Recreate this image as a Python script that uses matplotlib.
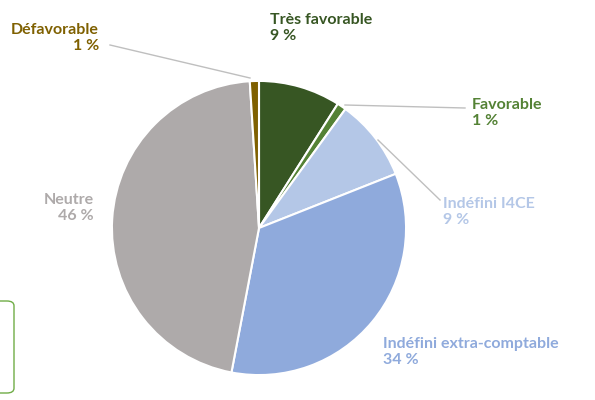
import matplotlib.pyplot as plt
from matplotlib.patches import FancyBboxPatch
from matplotlib.lines import Line2D

labels = ["Très favorable", "Favorable", "Indéfini I4CE", "Indéfini extra-comptable", "Neutre", "Défavorable"]
values = [9, 1, 9, 34, 46, 1]
pct_text = ["9 %", "1 %", "9 %", "34 %", "46 %", "1 %"]
colors = ["#375623", "#548235", "#B4C7E7", "#8FAADC", "#AEAAAA", "#7F6000"]

W, H = 595, 400
fig = plt.figure(figsize=(W/100, H/100), dpi=100)
cx, cy, r = 259, 228, 150
ax = fig.add_axes([(cx-r)/W, (H-cy-r)/H, 2*r/W, 2*r/H])
ax.pie(values, colors=colors, startangle=90, counterclock=False,
       wedgeprops=dict(edgecolor="white", linewidth=1.5), radius=1)
ax.set_xlim(-1.02, 1.02); ax.set_ylim(-1.02, 1.02)
ax.set_aspect("equal"); ax.axis("off")

def P(x, y):
    return x/W, 1 - y/H

pos = [(270, 28, "left"), (472, 113, "left"), (443, 212, "left"),
       (383, 352, "left"), (94, 208, "right"), (99, 38, "right")]
for i, (x, y, ha) in enumerate(pos):
    fig.text(*P(x, y), labels[i] + "\n" + pct_text[i], color=colors[i],
             ha=ha, va="center", fontsize=11.5, fontweight="bold",
             linespacing=1.25, family=["Lato", "DejaVu Sans"], multialignment=ha)

lc = "#BFBFBF"
for (x0, y0), (x1, y1) in [((110, 45), (250, 78)), ((345, 105), (465, 108)), ((378, 140), (440, 200))]:
    fig.add_artist(Line2D([x0/W, x1/W], [1-y0/H, 1-y1/H], color=lc, lw=1))

fig.add_artist(FancyBboxPatch((-8/W, 1-393/H), 22/W, 92/H,
               boxstyle="round,pad=0,rounding_size=0.012",
               edgecolor="#70AD47", facecolor="none", lw=1, transform=fig.transFigure))

fig.savefig("out.png", dpi=100)
